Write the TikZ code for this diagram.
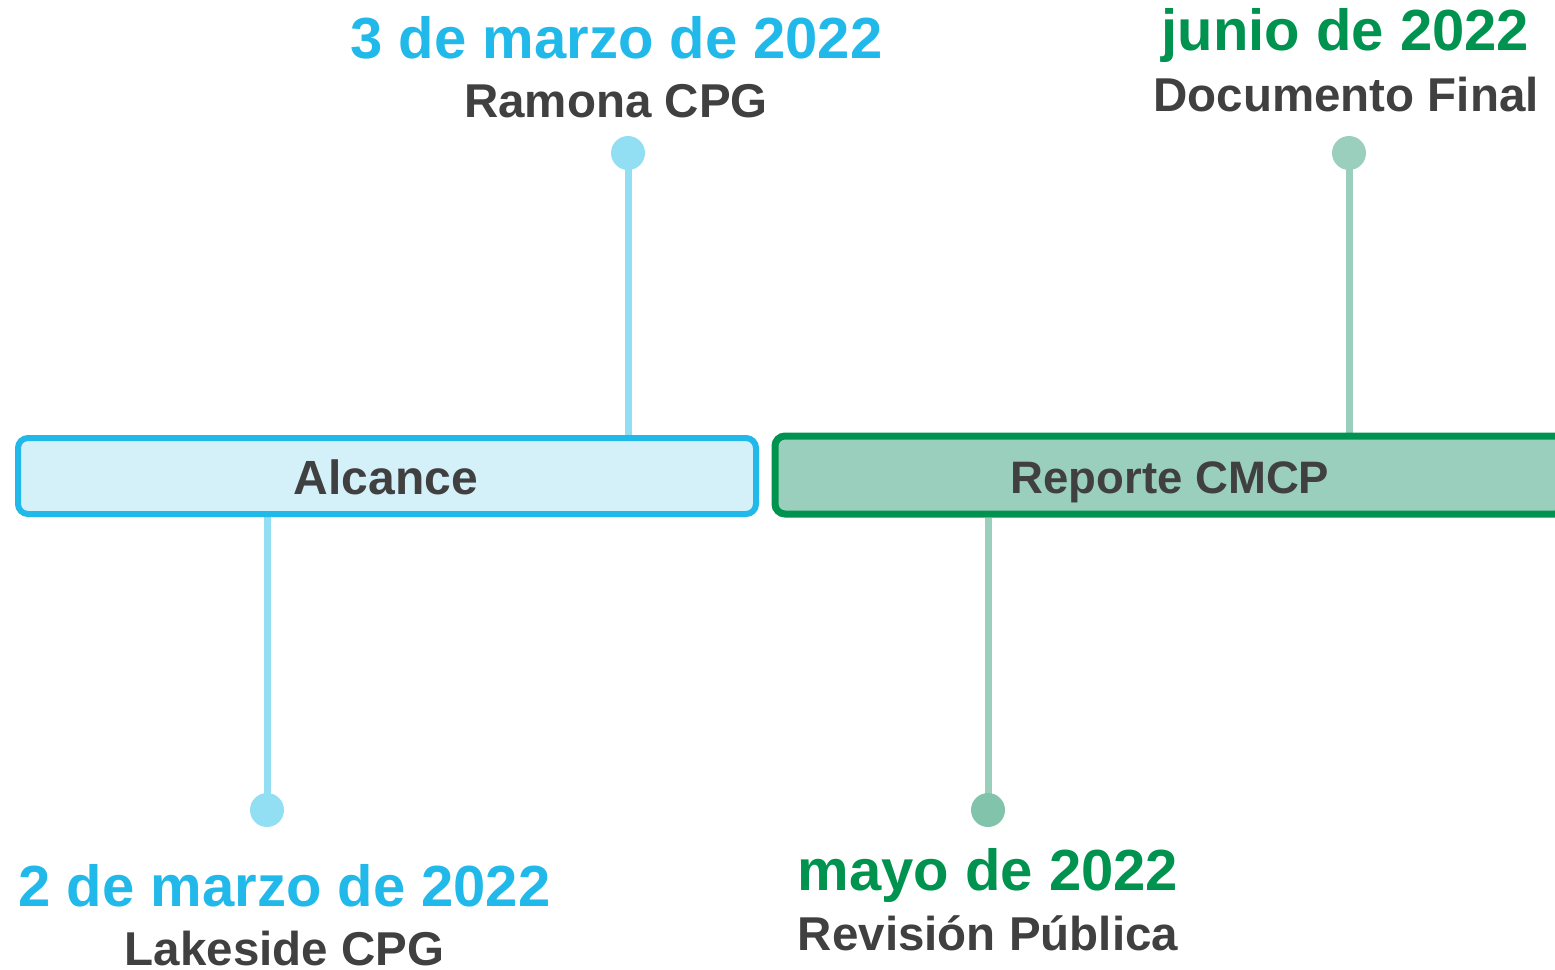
\documentclass[tikz,border=0pt]{standalone}
\usepackage{fontspec}
\setmainfont{Liberation Sans}
\usetikzlibrary{backgrounds}
\definecolor{cblue}{HTML}{21B9E9}
\definecolor{cbluefill}{HTML}{D4F0F9}
\definecolor{cbluestem}{HTML}{92DEF3}
\definecolor{cgreen}{HTML}{00934F}
\definecolor{cgreenfill}{HTML}{9BCFBD}
\definecolor{cgreendot}{HTML}{82C3AB}
\definecolor{cdark}{HTML}{404040}
\tikzset{
  phase/.style={draw, line width=6pt, rounded corners=10pt, inner sep=0pt,
    text=cdark, font=\bfseries\fontsize{48}{48}\selectfont},
  bluebox/.style={phase, draw=cblue, fill=cbluefill},
  greenbox/.style={phase, draw=cgreen, fill=cgreenfill, line width=7pt},
  dot/.style={circle, inner sep=0pt, minimum size=34pt},
  stemline/.style={line width=7pt},
  datetext/.style={anchor=base, inner sep=0pt, font=\bfseries\fontsize{58}{58}\selectfont},
  labeltext/.style={anchor=base, inner sep=0pt, text=cdark, font=\bfseries\fontsize{47.5}{47.5}\selectfont},
}
\begin{document}
\begin{tikzpicture}[x=1pt,y=-1pt]
\useasboundingbox (0,0) rectangle (1555,969);
\clip (0,0) rectangle (1555,969);
% boxes
\node[bluebox, minimum width=738pt, minimum height=76pt] (alc) at (387,476) {};
\node[greenbox, minimum width=790pt, minimum height=78pt] (rep) at (1170,475) {};
\node[phase, draw=none, fill=none, anchor=base] (alct) at (386,494) {Alcance};
\node[phase, draw=none, fill=none, anchor=base, font=\bfseries\fontsize{45.5}{45.5}\selectfont] (rept) at (1170,493) {Reporte CMCP};
% dots
\node[dot, fill=cbluestem] (d1) at (628,153) {};
\node[dot, fill=cbluestem] (d2) at (267,810) {};
\node[dot, fill=cgreendot] (d3) at (988,810) {};
\node[dot, fill=cgreenfill] (d4) at (1349,153) {};
% stems
\begin{scope}[on background layer]
\draw[stemline, cbluestem] (d1.center) -- (d1.center |- alc.north);
\draw[stemline, cbluestem] (d2.center) -- (d2.center |- alc.south);
\draw[stemline, cgreenfill] (d3.center) -- (d3.center |- rep.south);
\draw[stemline, cgreenfill] (d4.center) -- (d4.center |- rep.north);
\end{scope}
% texts
\node[datetext, text=cblue] (t1) at (616.5,58) {3 de marzo de 2022};
\node[labeltext] (l1) at (616,117) {Ramona CPG};
\node[datetext, text=cblue] (t2) at (284.5,906) {2 de marzo de 2022};
\node[labeltext] (l2) at (284.5,965) {Lakeside CPG};
\node[datetext, text=cgreen] (t3) at (988,890) {mayo de 2022};
\node[labeltext] (l3) at (988,950) {Revisión Pública};
\node[datetext, text=cgreen] (t4) at (1345.5,50) {junio de 2022};
\node[labeltext] (l4) at (1346,111) {Documento Final};
\end{tikzpicture}
\end{document}
